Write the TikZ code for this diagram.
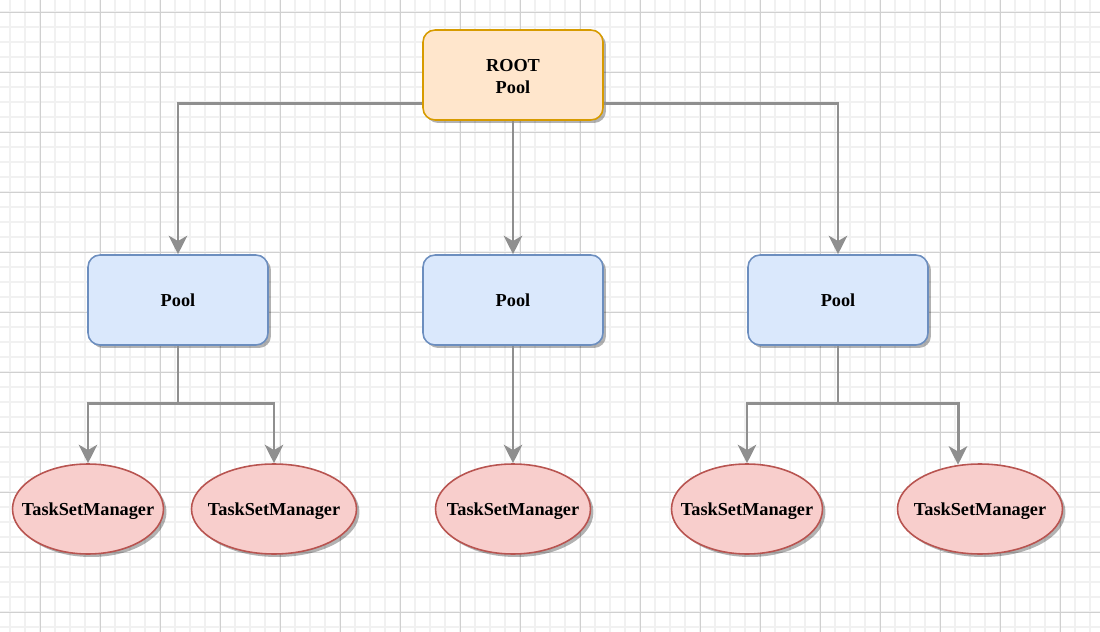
\documentclass[tikz,border=0pt]{standalone}
\usepackage{fontspec}
\setmainfont{Liberation Serif}
\usetikzlibrary{arrows.meta,shadows,shapes.geometric}
\definecolor{gridminor}{HTML}{F1F1F1}
\definecolor{gridmajor}{HTML}{D0D0D0}
\definecolor{rootfill}{HTML}{FFE6CC}
\definecolor{rootdraw}{HTML}{D79B00}
\definecolor{poolfill}{HTML}{DAE8FC}
\definecolor{pooldraw}{HTML}{6C8EBF}
\definecolor{tsmfill}{HTML}{F8CECC}
\definecolor{tsmdraw}{HTML}{B85450}
\definecolor{linkgray}{HTML}{8F8F8F}
\tikzset{
  boldtext/.style={font=\fontsize{10.4}{12}\selectfont\bfseries},
  shade box/.style={drop shadow={shadow xshift=0.06cm,shadow yshift=-0.06cm,opacity=0.3,fill=black}},
  rootbox/.style={rectangle,rounded corners=0.24cm,minimum width=3.6cm,minimum height=1.8cm,
    fill=rootfill,draw=rootdraw,line width=0.9pt,shade box},
  poolbox/.style={rectangle,rounded corners=0.24cm,minimum width=3.6cm,minimum height=1.8cm,
    fill=poolfill,draw=pooldraw,line width=0.9pt,shade box,boldtext},
  tsm/.style={ellipse,minimum height=1.8cm,inner sep=0pt,
    fill=tsmfill,draw=tsmdraw,line width=0.9pt,shade box,
    label={[boldtext,yshift=-0.05cm]center:TaskSetManager}},
  link/.style={draw=linkgray,line width=1.7pt,
    -{Stealth[length=10.5pt,width=10.5pt,inset=3pt,fill=linkgray]}}
}
\begin{document}
\begin{tikzpicture}[x=0.02cm,y=-0.02cm]
  \useasboundingbox[fill=white] (0,0) rectangle (1100,632);
  % background grid
  \foreach \gx in {10,25,...,1100} \draw[gridminor,line width=0.6pt] (\gx,0) -- (\gx,632);
  \foreach \gy in {12,27,...,632} \draw[gridminor,line width=0.6pt] (0,\gy) -- (1100,\gy);
  \foreach \gx in {40,100,...,1100} \draw[gridmajor,line width=0.5pt] (\gx,0) -- (\gx,632);
  \foreach \gy in {12,72,...,632} \draw[gridmajor,line width=0.5pt] (0,\gy) -- (1100,\gy);

  % nodes
  \node[rootbox,label={[boldtext,align=center,yshift=-0.03cm]center:ROOT\\Pool}] (root) at (513,75) {};
  \node[poolbox] (p1) at (178,300) {Pool};
  \node[poolbox] (p2) at (513,300) {Pool};
  \node[poolbox] (p3) at (838,300) {Pool};

  \node[tsm,minimum width=3.02cm] (e1) at (88,509)  {};
  \node[tsm,minimum width=3.3cm]  (e2) at (274,509) {};
  \node[tsm,minimum width=3.1cm]  (e3) at (513,509) {};
  \node[tsm,minimum width=3.02cm] (e4) at (747,509) {};
  \node[tsm,minimum width=3.3cm]  (e5) at (980,509) {};
  \coordinate (e5in) at ([xshift=-0.44cm,yshift=-0.03cm]e5.north);

  % connectors
  \draw[link] ([yshift=0.34cm]root.south west) -| (p1.north);
  \draw[link] ([yshift=0.34cm]root.south east) -| (p3.north);
  \draw[link] (root.south -| p2.north) -- (p2.north);

  \draw[link] (p1.south) -- ++(0,58) -| (e1.north);
  \draw[link] (p1.south) -- ++(0,58) -| (e2.north);
  \draw[link] (p2.south) -- (e3.north);
  \draw[link] (p3.south) -- ++(0,58) -| (e4.north);
  \draw[link] (p3.south) -- ++(0,58) -| (e5in);
\end{tikzpicture}
\end{document}
